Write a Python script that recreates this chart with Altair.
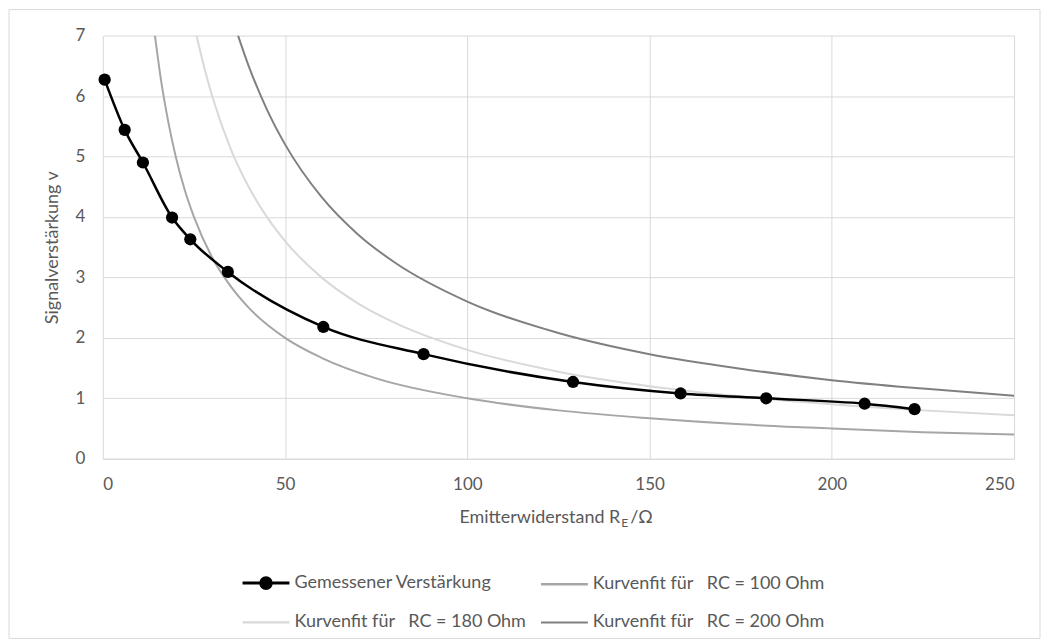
import altair as alt
import pandas as pd

# ---------------- data ----------------
NB = "\u00a0"
S0 = "Gemessener Verstärkung"
S1 = f"Kurvenfit für{NB}{NB}{NB}RC = 100 Ohm"
S2 = f"Kurvenfit für{NB}{NB}{NB}RC = 180 Ohm"
S3 = f"Kurvenfit für{NB}{NB}{NB}RC = 200 Ohm"
series_names = [S0, S1, S2, S3]
series_colors = ["#000000", "#a6a6a6", "#d9d9d9", "#808080"]

re_meas = [0.5, 6, 11, 19, 24, 34.3, 60.5, 88, 129, 158.5, 182, 209, 222.7]
v_meas = [6.27, 5.44, 4.90, 3.99, 3.63, 3.09, 2.18, 1.73, 1.27, 1.08, 1.00, 0.91, 0.82]

fit100_x = [14.3, 16, 18, 20, 22.5, 25, 30, 35, 40, 50, 60, 75, 100, 125, 150, 175, 200, 225, 250]
fit100_y = [7.0, 6.25, 5.56, 5.0, 4.44, 4.0, 3.33, 2.86, 2.5, 2.0, 1.67, 1.33, 1.0, 0.8, 0.67, 0.57, 0.5, 0.44, 0.4]

fit180_x = [25.7, 28, 30, 35, 40, 45, 50, 60, 70, 80, 100, 125, 150, 175, 200, 225, 250]
fit180_y = [7.0, 6.43, 6.0, 5.14, 4.5, 4.0, 3.6, 3.0, 2.57, 2.25, 1.8, 1.44, 1.2, 1.03, 0.9, 0.8, 0.72]

fit200_x = [37.1, 40, 45, 50, 60, 70, 80, 100, 125, 150, 175, 200, 225, 250]
fit200_y = [7.0, 6.5, 5.78, 5.2, 4.33, 3.71, 3.25, 2.6, 2.08, 1.73, 1.49, 1.3, 1.16, 1.04]

x_ticks = [0, 50, 100, 150, 200, 250]
y_ticks = [0, 1, 2, 3, 4, 5, 6, 7]

# ---------------- tables ----------------
meas_df = pd.DataFrame({"re": re_meas, "v": v_meas})
fit_df = pd.concat([
    pd.DataFrame({"re": fit100_x, "v": fit100_y, "series": S1}),
    pd.DataFrame({"re": fit180_x, "v": fit180_y, "series": S2}),
    pd.DataFrame({"re": fit200_x, "v": fit200_y, "series": S3}),
], ignore_index=True)
legend_df = pd.DataFrame({"series": series_names, "re": [float("nan")] * 4, "v": [float("nan")] * 4})

W, H = 913, 424
FONT = "Lato"
TXT = "#595959"
GRID = "#d9d9d9"

xscale = alt.Scale(domain=[0, 250], nice=False)
yscale = alt.Scale(domain=[0, 7], nice=False)

xax = alt.Axis(values=x_ticks, title=None, grid=True, ticks=False, domain=True,
               domainColor=GRID, labelPadding=18)
yax = alt.Axis(values=y_ticks, title="Signalverstärkung v", grid=True, ticks=False,
               domain=False, labelPadding=18, titlePadding=14)

X = alt.X("re:Q", scale=xscale, axis=xax)
Y = alt.Y("v:Q", scale=yscale, axis=yax)

fits = alt.Chart(fit_df).mark_line(interpolate="monotone", strokeWidth=2, clip=True).encode(
    x=X, y=Y,
    color=alt.Color("series:N", scale=alt.Scale(domain=[S1, S2, S3], range=series_colors[1:]), legend=None),
)

meas_line = alt.Chart(meas_df).mark_line(interpolate="monotone", color="black", strokeWidth=2.5).encode(x=X, y=Y)
meas_pts = alt.Chart(meas_df).mark_circle(size=150, color="black", opacity=1).encode(x=X, y=Y)

# legend symbols: path spans [-2, 2] so that the entry height stays small
path_meas = "M-2,0H2M-0.45,0A0.45,0.45,0,1,1,0.45,0A0.45,0.45,0,1,1,-0.45,0Z"
path_line = "M-2,0H2"

leg = alt.Legend(title=None, orient="none", legendX=150, legendY=535, direction="horizontal",
                 columns=2, labelFont=FONT, labelFontSize=18, labelColor=TXT, symbolSize=552,
                 labelOffset=15, rowPadding=15, columnPadding=8, labelLimit=400)

legend_layer = alt.Chart(legend_df).mark_point(filled=True, opacity=1).encode(
    x=X, y=Y,
    fill=alt.Fill("series:N", scale=alt.Scale(domain=series_names, range=series_colors), legend=leg),
    stroke=alt.Stroke("series:N", scale=alt.Scale(domain=series_names, range=series_colors), legend=leg),
    shape=alt.Shape("series:N", scale=alt.Scale(domain=series_names,
                                                range=[path_meas, path_line, path_line, path_line]), legend=leg),
    strokeWidth=alt.StrokeWidth("series:N", scale=alt.Scale(domain=series_names, range=[3, 2, 2, 2]), legend=leg),
)

one = pd.DataFrame({"a": [0]})
title_main = alt.Chart(one).mark_text(align="right", baseline="alphabetic", font=FONT, fontSize=18,
                                      color=TXT, text="Emitterwiderstand R").encode(
    x=alt.value(W / 2 + 62), y=alt.value(H + 64))
title_sub = alt.Chart(one).mark_text(align="left", baseline="alphabetic", font=FONT, fontSize=12,
                                     color=TXT, text="E").encode(
    x=alt.value(W / 2 + 63), y=alt.value(H + 68))
title_end = alt.Chart(one).mark_text(align="left", baseline="alphabetic", font=FONT, fontSize=18,
                                     color=TXT, text="/Ω").encode(
    x=alt.value(W / 2 + 72), y=alt.value(H + 64))

frame = alt.Chart(one).mark_rect(filled=False, stroke=GRID, strokeWidth=1).encode(
    x=alt.value(-94), x2=alt.value(W + 26), y=alt.value(-26), y2=alt.value(H + 180))

chart = alt.layer(frame, fits, meas_line, meas_pts, legend_layer, title_main, title_sub, title_end).properties(
    width=W, height=H, padding=0, background="white"
).configure_view(stroke=None).configure_axis(
    gridColor=GRID, gridWidth=1, labelFont=FONT, labelFontSize=17, labelColor=TXT,
    titleFont=FONT, titleFontSize=18, titleColor=TXT, titleFontWeight="normal"
)

chart.save("out.html", embed_options={"renderer": "svg", "actions": False})
